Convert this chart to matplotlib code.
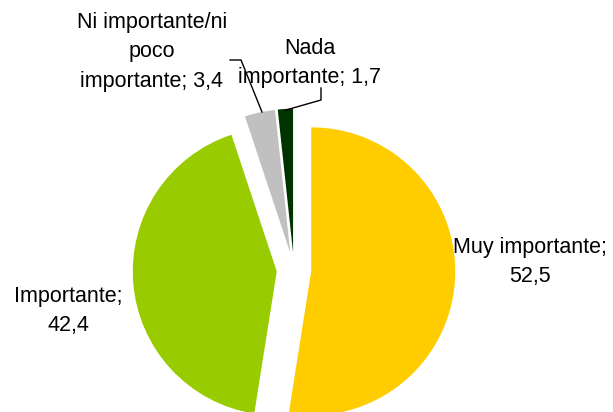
import matplotlib
matplotlib.use("Agg")
import matplotlib.pyplot as plt

categories = ["Muy importante", "Importante", "Ni importante/ni\npoco\nimportante", "Nada\nimportante"]
values = [52.5, 42.4, 3.4, 1.7]
colors = ["#FFCC00", "#99CC00", "#C0C0C0", "#003300"]

plt.rcParams['font.family'] = ['Liberation Sans', 'DejaVu Sans']

# pixel -> data helper (pie centre at px (294, 270), radius 144 px)
CX, CY, R = 294, 270, 144.0
def d(px, py):
    return (px - CX) / R, (CY - py) / R

fig = plt.figure(figsize=(6.13, 4.12), dpi=100)
ax = fig.add_axes([0, 0, 1, 1])
ax.pie(values, colors=colors, startangle=90, counterclock=False,
       explode=[0.12] * 4, radius=1.0,
       wedgeprops=dict(linewidth=0))
ax.set_xlim(d(0, 0)[0], d(613, 0)[0])
ax.set_ylim(d(0, 412)[1], d(0, 0)[1])
ax.set_aspect('equal')
ax.axis('off')

def fmt(v):
    return f"{v}".replace('.', ',')

label_pos = [(530, 262), (68, 311), (152, 52), (310, 63)]
labels = [
    categories[0] + ";\n" + fmt(values[0]),
    categories[1] + ";\n" + fmt(values[1]),
    categories[2] + "; " + fmt(values[2]),
    categories[3] + "; " + fmt(values[3]),
]
for (px, py), lab in zip(label_pos, labels):
    x, y = d(px, py)
    ax.text(x, y, lab, ha='center', va='center', fontsize=15.5,
            linespacing=1.55, color='black')

# leader lines
for pts in [[(230, 60), (241, 60), (262, 112)],
            [(321, 88), (321, 100), (286, 110)]]:
    xs, ys = zip(*[d(*p) for p in pts])
    ax.plot(xs, ys, color='black', lw=1)

fig.savefig("out.png", dpi=100)
